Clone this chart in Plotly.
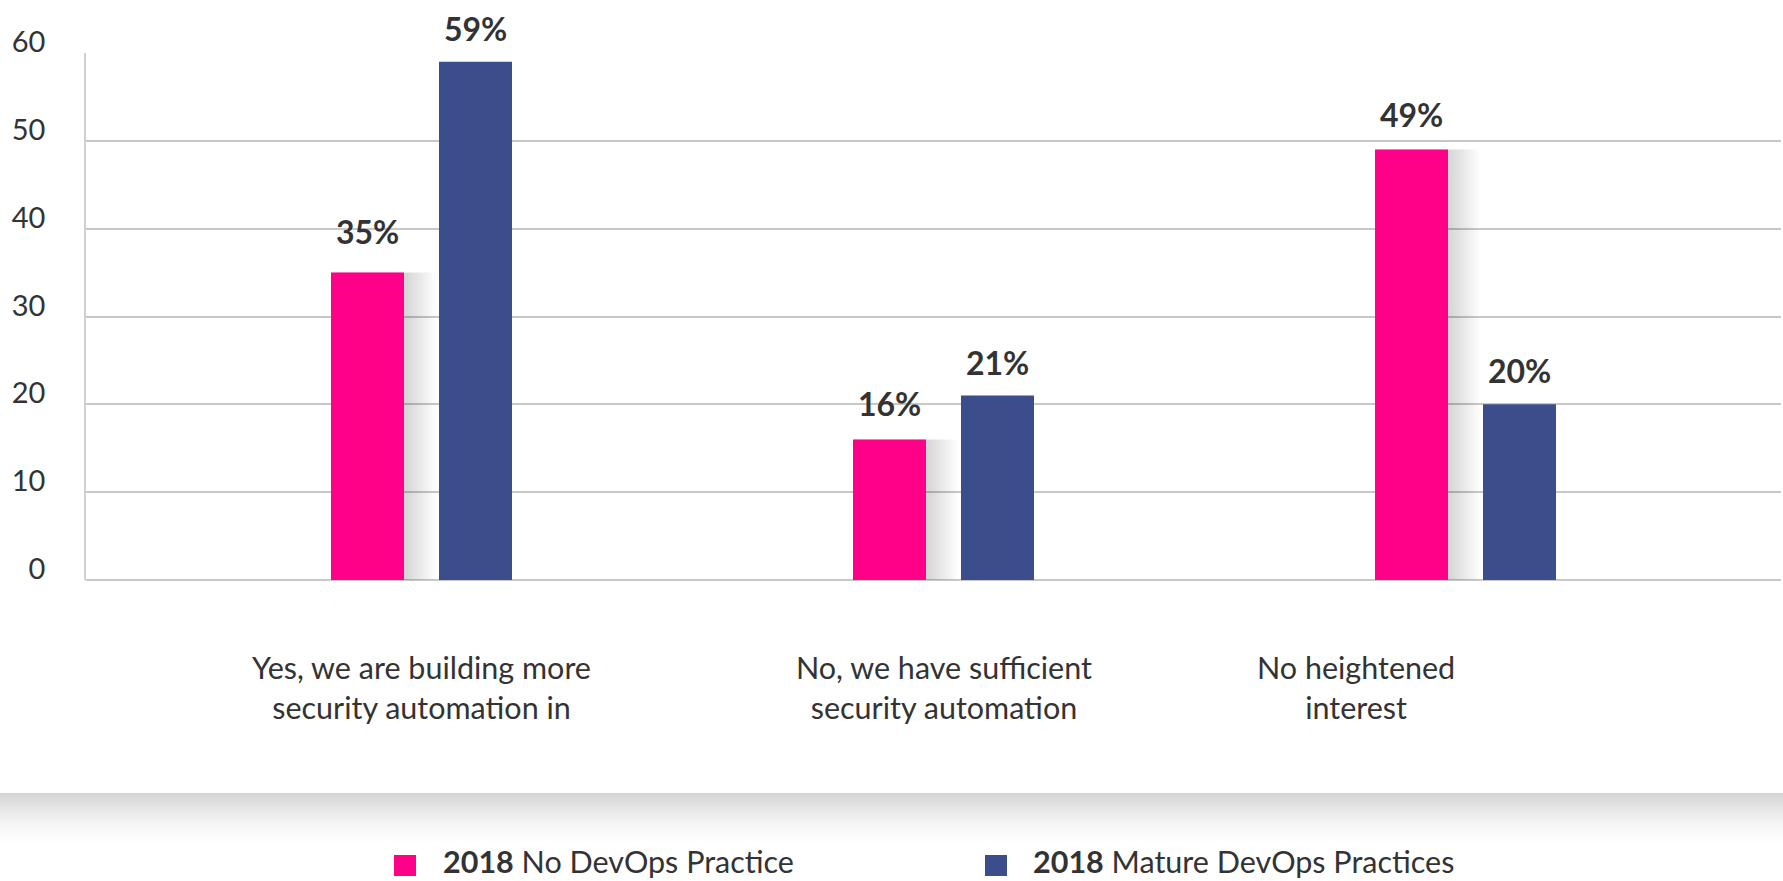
import plotly.graph_objects as go

# ---------------- data ----------------
categories = ["Yes, we are building more<br>security automation in",
              "No, we have sufficient<br>security automation",
              "No heightened<br>interest"]
cat_keys = ["c1", "c2", "c3"]
no_devops = [35, 16, 49]
mature_devops = [59, 21, 20]
series_names = ["2018", "2018"]
series_desc = ["No DevOps Practice", "Mature DevOps Practices"]
y_ticks = [0, 10, 20, 30, 40, 50, 60]

# ---------------- style ----------------
PINK = "#FF0088"
BLUE = "#3C4D8B"
TXT = "#333333"
FONT = "Lato"
W, H = 1783, 881
ML, MR, MT, MB = 86, 2, 53, 301
PW = W - ML - MR
PH = H - MT - MB
CAT_PX = 522.0
XR = [-(421.5 - ML) / CAT_PX, (W - MR - 421.5) / CAT_PX]
BAR_W = 73 / CAT_PX
OFF_PINK = -90.5 / CAT_PX
OFF_BLUE = 17.5 / CAT_PX
LABEL_SHIFT = [-54, 54]
LABEL_YSHIFT = [[20, 14, 14], [12, 12, 12]]
CAT_LABEL_SHIFT = [0, 0, -110]


def px_to_paper_x(px):
    return (px - ML) / PW


def px_to_paper_y(py):
    return (H - MB - py) / PH


fig = go.Figure()

# soft shadow to the right of the pink bars
for k in range(1, 11):
    fig.add_trace(go.Bar(
        x=cat_keys, y=[v + 0.07 * k for v in no_devops],
        base=[-0.07 * k] * len(no_devops),
        width=BAR_W + k * 3 / CAT_PX, offset=OFF_PINK + 1 / CAT_PX,
        marker=dict(color="rgba(0,0,0,0.016)", line=dict(width=0)),
        showlegend=False, hoverinfo="skip"))

fig.add_trace(go.Bar(
    x=cat_keys, y=no_devops, name=series_desc[0],
    width=BAR_W, offset=OFF_PINK,
    marker=dict(color=PINK, line=dict(width=0)), showlegend=False))
fig.add_trace(go.Bar(
    x=cat_keys, y=mature_devops, name=series_desc[1],
    width=BAR_W, offset=OFF_BLUE,
    marker=dict(color=BLUE, line=dict(width=0)), showlegend=False))

annotations = []
for vals, sh, ysh in zip([no_devops, mature_devops], LABEL_SHIFT, LABEL_YSHIFT):
    for c, v, ys in zip(cat_keys, vals, ysh):
        annotations.append(dict(
            x=c, y=v, xref="x", yref="y", text=f"<b>{v}%</b>",
            showarrow=False, xanchor="center", yanchor="bottom",
            xshift=sh, yshift=ys,
            font=dict(family=FONT, size=32, color=TXT)))

for c, lab, sh in zip(cat_keys, categories, CAT_LABEL_SHIFT):
    annotations.append(dict(
        x=c, y=0, xref="x", yref="y", text=lab, showarrow=False,
        xanchor="center", yanchor="top", xshift=sh, yshift=-67,
        align="center",
        font=dict(family=FONT, size=30.5, color=TXT)))

# legend (manual)
legend_sq_left = [394, 985]
legend_text_left = [442, 1032]
shapes = []
for name, desc, col, sql, tl in zip(series_names, series_desc, [PINK, BLUE],
                                    legend_sq_left, legend_text_left):
    shapes.append(dict(type="rect", xref="paper", yref="paper",
                       x0=px_to_paper_x(sql), x1=px_to_paper_x(sql + 22),
                       y0=px_to_paper_y(876), y1=px_to_paper_y(855),
                       fillcolor=col, line=dict(width=0), layer="above"))
    annotations.append(dict(
        x=px_to_paper_x(tl), y=px_to_paper_y(861), xref="paper", yref="paper",
        text=f"<b>{name}</b> {desc}", showarrow=False,
        xanchor="left", yanchor="middle", borderpad=0,
        font=dict(family=FONT, size=30.5, color=TXT)))

# grey shadow band below the card
band_top = 793
band_h = 52
steps = 26
for i in range(steps):
    t = i / steps
    g = int(round(255 - 42 * (1 - t) ** 1.6))
    y0 = band_top + band_h * i / steps
    y1 = band_top + band_h * (i + 1) / steps
    shapes.append(dict(type="rect", xref="paper", yref="paper",
                       x0=px_to_paper_x(0), x1=px_to_paper_x(W),
                       y0=px_to_paper_y(y1 + 0.5), y1=px_to_paper_y(y0),
                       fillcolor=f"rgb({g},{g},{g})", line=dict(width=0),
                       layer="below"))

fig.update_layout(
    width=W, height=H,
    margin=dict(l=ML, r=MR, t=MT, b=MB, pad=0),
    paper_bgcolor="white", plot_bgcolor="white",
    barmode="overlay",
    showlegend=False,
    annotations=annotations,
    shapes=shapes,
    xaxis=dict(type="category", categoryorder="array", categoryarray=cat_keys,
               range=XR, showticklabels=False, showgrid=False,
               zeroline=False, showline=False, ticks="", fixedrange=True),
    yaxis=dict(range=[0, 60], tickvals=y_ticks, showgrid=True,
               gridcolor="#c8c8c8", gridwidth=1.5,
               zeroline=True, zerolinecolor="#c8c8c8", zerolinewidth=1.5,
               showline=True, linecolor="#d0d0d0", linewidth=1.5,
               ticks="", ticklabelshift=-11, ticklabelstandoff=33,
               tickfont=dict(family=FONT, size=29, color=TXT)),
)

fig.write_html("out.html",
               config={"displayModeBar": False},
               post_script="document.body.style.margin='0';"
                           "document.body.style.overflow='hidden';")
